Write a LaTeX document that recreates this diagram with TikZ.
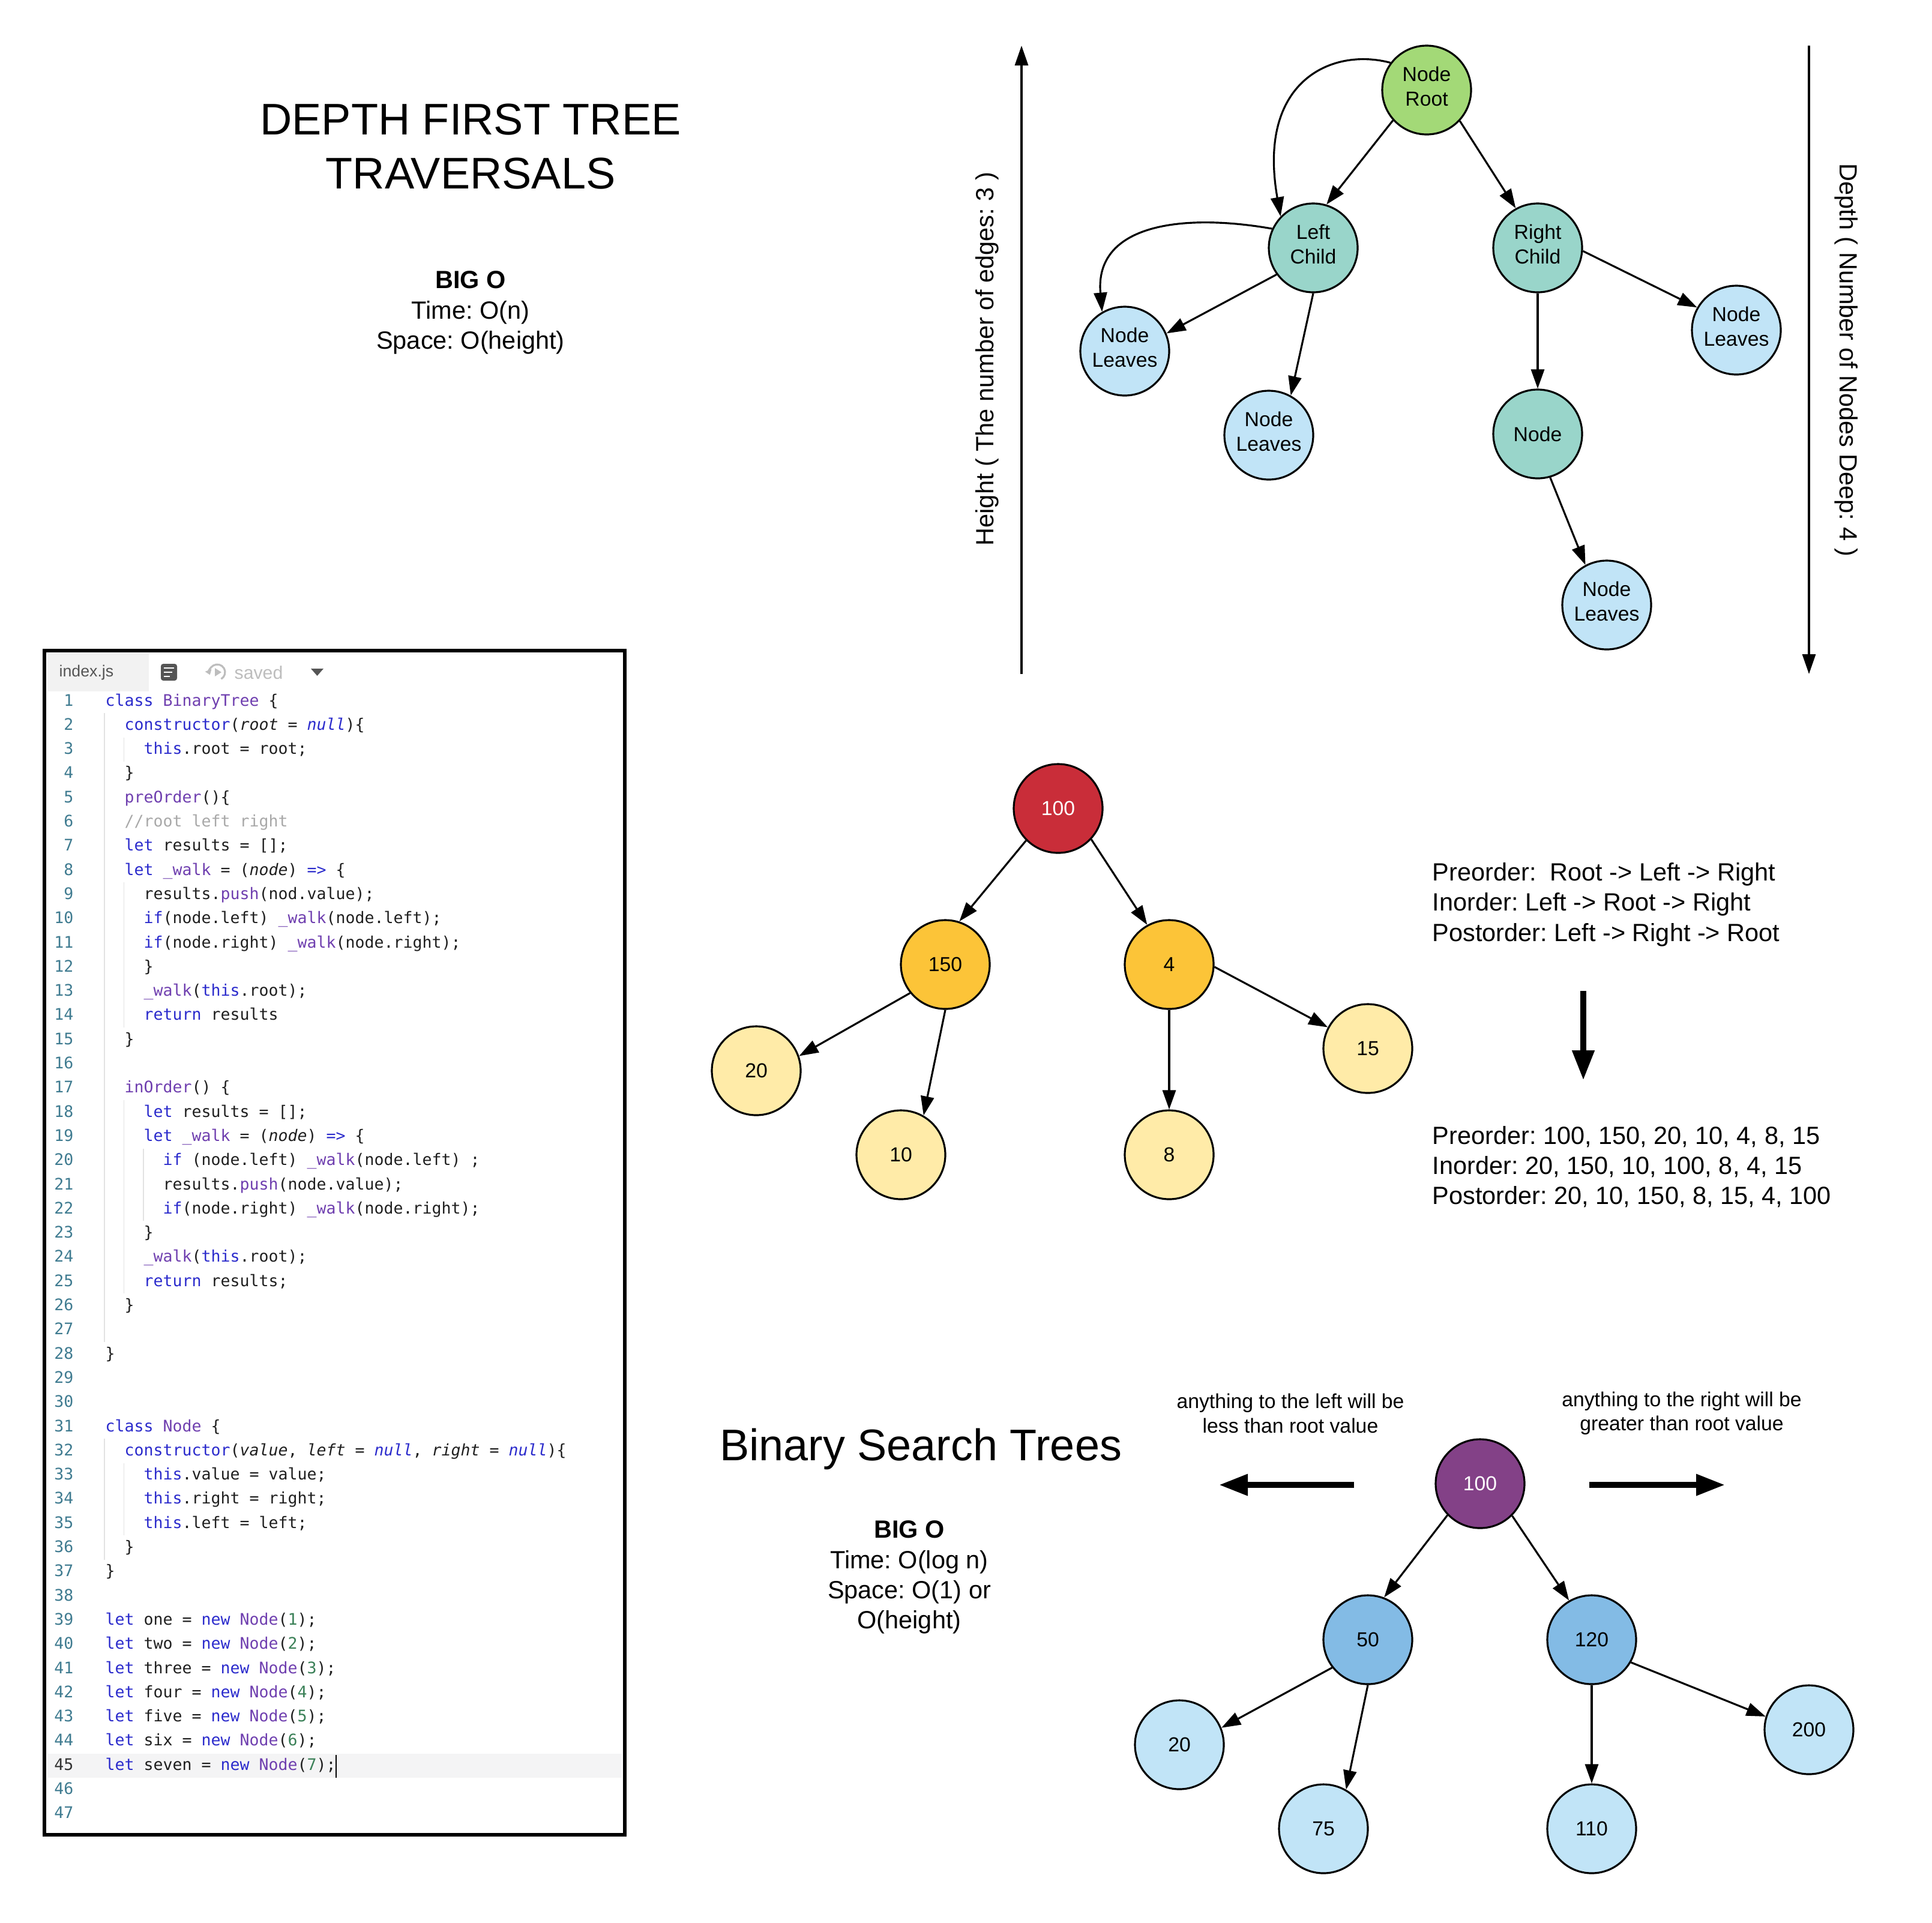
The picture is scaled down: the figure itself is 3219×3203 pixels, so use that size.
\documentclass[tikz,border=0pt]{standalone}
\usepackage{fontspec}
\setmainfont{Liberation Sans}
\newfontfamily\codefont{DejaVu Sans Mono}
\usetikzlibrary{arrows.meta}
\frenchspacing

\definecolor{rootgreen}{HTML}{A3D977}
\definecolor{childteal}{HTML}{99D5CA}
\definecolor{leafblue}{HTML}{C1E4F7}
\definecolor{topred}{HTML}{C92D39}
\definecolor{midorange}{HTML}{FCC438}
\definecolor{leafyellow}{HTML}{FFEBA8}
\definecolor{toppurple}{HTML}{834187}
\definecolor{midblue}{HTML}{83BBE5}
\definecolor{kwblue}{HTML}{2B2BCC}
\definecolor{fnpurple}{HTML}{6F3FAF}
\definecolor{numgreen}{HTML}{3A8057}
\definecolor{cmtgray}{HTML}{A8A8A8}
\definecolor{lnblue}{HTML}{3F7B90}
\definecolor{guidegray}{HTML}{E2E2E2}
\definecolor{tabgray}{HTML}{F2F2F2}
\definecolor{icongray}{HTML}{555555}
\definecolor{savedgray}{HTML}{BDBDBD}
\definecolor{hlgray}{HTML}{F4F4F5}

\newcommand\kw[1]{\textcolor{kwblue}{#1}}
\newcommand\fnc[1]{\textcolor{fnpurple}{#1}}
\newcommand\nm[1]{\textcolor{numgreen}{#1}}
\newcommand\cmt[1]{\textcolor{cmtgray}{#1}}
\newcommand\prm[1]{\textit{#1}}
\newcommand\codeln[3]{\node[codeline] at ({175+16*#2},{1176+40.3*(#1-1)}) {#3};}
\newcommand\guide[3]{\draw[guideline] ({174+16.2*#1},{1148+40.3*(#2-1)}) -- ({174+16.2*#1},{1188+40.3*(#3-1)});}

\begin{document}
\begin{tikzpicture}[x=0.1mm, y=-0.1mm,
	tnode/.style={circle, draw, line width=0.9pt, minimum size=14.8mm, inner sep=0pt, text depth=0pt, align=center, font=\fontsize{9.6pt}{11.6pt}\selectfont},
	tnodetwo/.style={tnode, text depth=3.4pt},
	arr/.style={-{Triangle[length=3.2mm,width=2.2mm]}, line width=0.9pt},
	fatarr/.style={-{Triangle[length=4.8mm,width=3.4mm]}, line width=0.95mm},
	body/.style={align=center, font=\fontsize{11.8pt}{14.3pt}\selectfont},
	title/.style={align=center, font=\fontsize{21pt}{25.6pt}\selectfont},
	note/.style={align=center, font=\fontsize{9.6pt}{11.5pt}\selectfont},
	codeline/.style={anchor=base west, inner sep=0pt, text=black!88, font=\codefont\fontsize{7.56pt}{9pt}\selectfont},
	lnum/.style={anchor=base east, inner sep=0pt, text=lnblue, font=\codefont\fontsize{7.56pt}{9pt}\selectfont},
	guideline/.style={guidegray, line width=0.5pt}]
	%\draw[help lines] (0,0) grid[step=100] (3219,3203);
	\useasboundingbox (0,0) rectangle (3219,3203);

	% headings
	\node[title] (dfttitle) at (784,244) {DEPTH FIRST TREE\\TRAVERSALS};
	\node[body] (dftbigo) at (784,521) {\textbf{BIG O}\\Time: O(n)\\Space: O(height)};
	\node[title] (bsttitle) at (1534,2414) {Binary Search Trees};
	\node[body] (bstbigo) at (1515,2628) {\textbf{BIG O}\\Time: O(log n)\\Space: O(1) or\\O(height)};

	% height and depth
	\coordinate (hbot) at (1702,1123);
	\coordinate (htop) at (1702,76);
	\coordinate (dtop) at (3014,76);
	\coordinate (dbot) at (3014,1123);
	\draw[arr, -{Triangle[length=3.3mm,width=2.2mm]}] (hbot) -- (htop);
	\draw[arr, -{Triangle[length=3.3mm,width=2.2mm]}] (dtop) -- (dbot);
	\node[body, rotate=90] (hlabel) at (1645,598) {Height ( The number of edges: 3 )};
	\node[body, rotate=-90] (dlabel) at (3076,600) {Depth ( Number of Nodes Deep: 4 )};

	% general tree
	\node[tnodetwo, fill=rootgreen] (root) at (2377,150) {Node\\Root};
	\node[tnodetwo, fill=childteal] (lc) at (2188,413) {Left\\Child};
	\node[tnodetwo, fill=childteal] (rc) at (2562,413) {Right\\Child};
	\node[tnodetwo, fill=leafblue] (leafa) at (1874,585) {Node\\Leaves};
	\node[tnodetwo, fill=leafblue] (leafb) at (2114,725) {Node\\Leaves};
	\node[tnode, fill=childteal] (mid) at (2562,723) {Node};
	\node[tnodetwo, fill=leafblue] (leafc) at (2893,550) {Node\\Leaves};
	\node[tnodetwo, fill=leafblue] (leafd) at (2677,1008) {Node\\Leaves};
	\draw[arr] (root.222) -- (lc.73);
	\draw[arr] (root.317) -- (rc.119);
	\draw[arr] (lc.216) -- (leafa.23);
	\draw[arr] (lc.270) -- (leafb.61);
	\draw[arr] (rc.270) -- (mid.90);
	\draw[arr] (rc.356) -- (leafc.150);
	\draw[arr] (mid.286) -- (leafd.118);
	\draw[arr] (root.143) to[out=165, in=100, out distance=10mm, in distance=23mm] (lc.136);
	\draw[arr] (lc.155) to[out=170, in=95, looseness=1.2] (leafa.120);

	% traversal example
	\node[tnode, fill=topred, text=white] (t100) at (1763,1347) {100};
	\node[tnode, fill=midorange] (t150) at (1575,1607) {150};
	\node[tnode, fill=midorange] (t4) at (1948,1607) {4};
	\node[tnode, fill=leafyellow] (t20) at (1260,1784) {20};
	\node[tnode, fill=leafyellow] (t10) at (1501,1924) {10};
	\node[tnode, fill=leafyellow] (t8) at (1948,1924) {8};
	\node[tnode, fill=leafyellow] (t15) at (2279,1747) {15};
	\draw[arr] (t100.225) -- (t150.72);
	\draw[arr] (t100.317) -- (t4.119);
	\draw[arr] (t150.219) -- (t20.19);
	\draw[arr] (t150.270) -- (t10.60);
	\draw[arr] (t4.270) -- (t8.90);
	\draw[arr] (t4.357) -- (t15.152);

	\node[body, anchor=west, align=left, inner sep=0pt] (orders) at (2386,1507) {Preorder:\ \ Root -> Left -> Right\\Inorder: Left -> Root -> Right\\Postorder: Left -> Right -> Root};
	\coordinate (dn0) at (2638,1651);
	\coordinate (dn1) at (2638,1800);
	\draw[fatarr, -{Triangle[length=5mm,width=3.5mm]}, line width=1.05mm] (dn0) -- (dn1);
	\node[body, anchor=west, align=left, inner sep=0pt] (results) at (2386,1944) {Preorder: 100, 150, 20, 10, 4, 8, 15\\Inorder: 20, 150, 10, 100, 8, 4, 15\\Postorder: 20, 10, 150, 8, 15, 4, 100};

	% binary search tree
	\node[tnode, fill=toppurple, text=white] (b100) at (2466,2472) {100};
	\node[tnode, fill=midblue] (b50) at (2279,2732) {50};
	\node[tnode, fill=midblue] (b120) at (2652,2732) {120};
	\node[tnode, fill=leafblue] (b20) at (1965,2907) {20};
	\node[tnode, fill=leafblue] (b75) at (2205,3047) {75};
	\node[tnode, fill=leafblue] (b110) at (2652,3047) {110};
	\node[tnode, fill=leafblue] (b200) at (3014,2882) {200};
	\draw[arr] (b100.224) -- (b50.69);
	\draw[arr] (b100.315) -- (b120.120);
	\draw[arr] (b50.218) -- (b20.22);
	\draw[arr] (b50.270) -- (b75.60);
	\draw[arr] (b120.270) -- (b110.90);
	\draw[arr] (b120.330) -- (b200.163);
	\node[note] (lessnote) at (2150,2355) {anything to the left will be\\less than root value};
	\node[note] (morenote) at (2802,2355) {anything to the right will be\\greater than root value};
	\coordinate (lt0) at (2256,2474);
	\coordinate (lt1) at (2031,2474);
	\coordinate (rt0) at (2648,2474);
	\coordinate (rt1) at (2874,2474);
	\draw[fatarr] (lt0) -- (lt1);
	\draw[fatarr] (rt0) -- (rt1);

	% editor panel
	\fill[tabgray] (79,1089) rectangle (248,1152);
	\fill[hlgray] (79,2922) rectangle (1036,2962);
	\node[anchor=west, inner sep=0pt, text=icongray, font=\fontsize{7.6pt}{9pt}\selectfont] (tabname) at (98,1121) {index.js};
	\fill[icongray, rounded corners=0.4mm] (268,1106) rectangle (295,1134);
	\foreach \y/\e in {1113/290, 1120/287, 1127/283}
		\draw[white, line width=0.5pt] (273,\y) -- (\e,\y);
	\draw[savedgray, line width=0.9pt, -{Triangle[length=0.8mm,width=1.1mm]}] (362,1120) ++(-60:1.3mm) arc[start angle=-60, end angle=200, radius=1.3mm];
	\fill[savedgray] (358,1113) -- (369,1120) -- (358,1127) -- cycle;
	\node[anchor=west, inner sep=0pt, text=savedgray, font=\fontsize{8.6pt}{10pt}\selectfont] (savedtxt) at (390,1121) {saved};
	\fill[icongray] (518,1114) -- (539,1114) -- (528.5,1126) -- cycle;

	\guide{0}{2}{27}
	\guide{0}{32}{36}
	\guide{2}{3}{3}
	\guide{2}{9}{14}
	\guide{2}{18}{25}
	\guide{2}{33}{35}
	\guide{4}{20}{22}

	\foreach \i in {1,...,44,46,47}
		\node[lnum] at (123,{1176+40.3*(\i-1)}) {\i};
	\node[lnum, text=black!80] at (123,{1176+40.3*44}) {45};

	\codeln{1}{0}{\kw{class} \fnc{BinaryTree} \{}
	\codeln{2}{2}{\kw{constructor}(\prm{root} = \kw{\prm{null}})\{}
	\codeln{3}{4}{\kw{this}.root = root;}
	\codeln{4}{2}{\}}
	\codeln{5}{2}{\fnc{preOrder}()\{}
	\codeln{6}{2}{\cmt{//root left right}}
	\codeln{7}{2}{\kw{let} results = [];}
	\codeln{8}{2}{\kw{let} \fnc{\_walk} = (\prm{node}) \kw{=>} \{}
	\codeln{9}{4}{results.\fnc{push}(nod.value);}
	\codeln{10}{4}{\kw{if}(node.left) \fnc{\_walk}(node.left);}
	\codeln{11}{4}{\kw{if}(node.right) \fnc{\_walk}(node.right);}
	\codeln{12}{4}{\}}
	\codeln{13}{4}{\fnc{\_walk}(\kw{this}.root);}
	\codeln{14}{4}{\kw{return} results}
	\codeln{15}{2}{\}}
	\codeln{17}{2}{\fnc{inOrder}() \{}
	\codeln{18}{4}{\kw{let} results = [];}
	\codeln{19}{4}{\kw{let} \fnc{\_walk} = (\prm{node}) \kw{=>} \{}
	\codeln{20}{6}{\kw{if} (node.left) \fnc{\_walk}(node.left) ;}
	\codeln{21}{6}{results.\fnc{push}(node.value);}
	\codeln{22}{6}{\kw{if}(node.right) \fnc{\_walk}(node.right);}
	\codeln{23}{4}{\}}
	\codeln{24}{4}{\fnc{\_walk}(\kw{this}.root);}
	\codeln{25}{4}{\kw{return} results;}
	\codeln{26}{2}{\}}
	\codeln{28}{0}{\}}
	\codeln{31}{0}{\kw{class} \fnc{Node} \{}
	\codeln{32}{2}{\kw{constructor}(\prm{value}, \prm{left} = \kw{\prm{null}}, \prm{right} = \kw{\prm{null}})\{}
	\codeln{33}{4}{\kw{this}.value = value;}
	\codeln{34}{4}{\kw{this}.right = right;}
	\codeln{35}{4}{\kw{this}.left = left;}
	\codeln{36}{2}{\}}
	\codeln{37}{0}{\}}
	\codeln{39}{0}{\kw{let} one = \kw{new} \fnc{Node}(\nm{1});}
	\codeln{40}{0}{\kw{let} two = \kw{new} \fnc{Node}(\nm{2});}
	\codeln{41}{0}{\kw{let} three = \kw{new} \fnc{Node}(\nm{3});}
	\codeln{42}{0}{\kw{let} four = \kw{new} \fnc{Node}(\nm{4});}
	\codeln{43}{0}{\kw{let} five = \kw{new} \fnc{Node}(\nm{5});}
	\codeln{44}{0}{\kw{let} six = \kw{new} \fnc{Node}(\nm{6});}
	\codeln{45}{0}{\kw{let} seven = \kw{new} \fnc{Node}(\nm{7});}
	\draw[black, line width=0.5pt] (560,2924) -- (560,2962);
	\draw[line width=1.7pt] (74,1084) rectangle (1041,3057);
\end{tikzpicture}
\end{document}
